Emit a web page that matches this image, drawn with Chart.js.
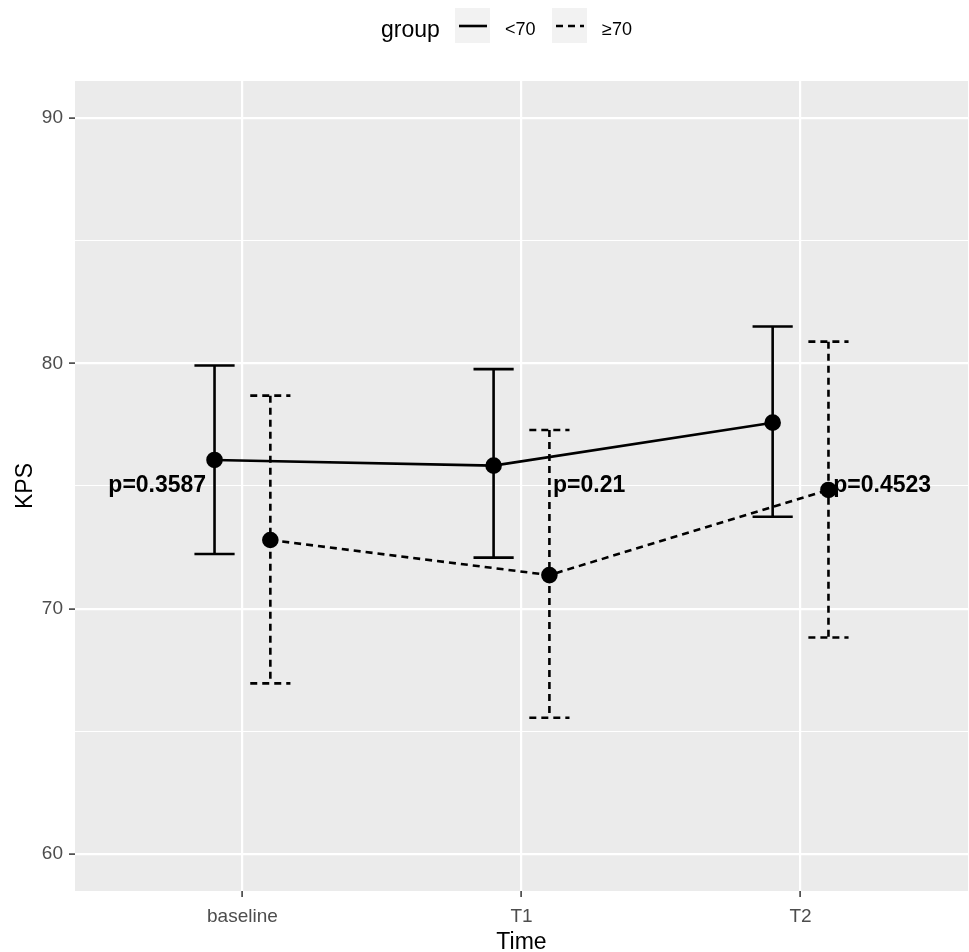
<!DOCTYPE html>
<html>
<head>
<meta charset="utf-8">
<script src="https://cdn.jsdelivr.net/npm/chart.js@4"></script>
<style>
  html, body { margin: 0; padding: 0; background: #fff; overflow: hidden; }
  #wrap { width: 969px; height: 952px; position: relative; }
  #chart { width: 969px; height: 952px; display: block; }
</style>
</head>
<body>
<div id="wrap"><canvas id="chart" width="969" height="952"></canvas></div>
<script>
// data
const categories = ["baseline", "T1", "T2"];
const meanLow = [76.06, 75.83, 77.58];   // group <70
const upperLow = [79.91, 79.76, 81.50];
const lowerLow = [72.23, 72.08, 73.75];
const meanHigh = [72.80, 71.37, 74.84];  // group >=70
const upperHigh = [78.68, 77.28, 80.88];
const lowerHigh = [66.96, 65.56, 68.83];
const pLabels = ["p=0.3587", "p=0.21", "p=0.4523"];
const pLevel = 75;
const yTicks = [60, 65, 70, 75, 80, 85, 90];
const majorTicks = [60, 70, 80, 90];

const DODGE = 0.1;
const DASH = [7, 5];
const FONT = "'Liberation Sans', Arial, sans-serif";

function points(means, shift) {
    return means.map((v, i) => ({ x: i + 1 + shift, y: v }));
}

// grey panel behind the grid
const panelBg = {
    id: "panelBg",
    beforeDraw(chart) {
        const a = chart.chartArea;
        const ctx = chart.ctx;
        ctx.save();
        ctx.fillStyle = "#EBEBEB";
        ctx.fillRect(a.left, a.top, a.right - a.left, a.bottom - a.top);
        ctx.restore();
    }
};

// error bars drawn through the scales
const errorBars = {
    id: "errorBars",
    beforeDatasetsDraw(chart) {
        const xs = chart.scales.x, ys = chart.scales.y;
        const ctx = chart.ctx;
        const groups = [
            { upper: upperLow, lower: lowerLow, shift: -DODGE, dash: [] },
            { upper: upperHigh, lower: lowerHigh, shift: DODGE, dash: DASH }
        ];
        ctx.save();
        ctx.strokeStyle = "#000";
        ctx.lineWidth = 2.6;
        groups.forEach(g => {
            ctx.setLineDash(g.dash);
            categories.forEach((c, i) => {
                const x = xs.getPixelForValue(i + 1 + g.shift);
                const x0 = xs.getPixelForValue(i + 1 + g.shift - 0.072);
                const x1 = xs.getPixelForValue(i + 1 + g.shift + 0.072);
                const yt = ys.getPixelForValue(g.upper[i]);
                const yb = ys.getPixelForValue(g.lower[i]);
                ctx.beginPath();
                ctx.moveTo(x0, yt); ctx.lineTo(x1, yt);
                ctx.moveTo(x, yt); ctx.lineTo(x, yb);
                ctx.moveTo(x0, yb); ctx.lineTo(x1, yb);
                ctx.stroke();
            });
        });
        ctx.restore();
    }
};

// p-value labels and the legend on top
const annotations = {
    id: "annotations",
    afterDatasetsDraw(chart) {
        const xs = chart.scales.x, ys = chart.scales.y;
        const ctx = chart.ctx;
        const anchors = [
            { x: 0.87, align: "right" },
            { x: 2.113, align: "left" },
            { x: 3.117, align: "left" }
        ];
        ctx.save();
        ctx.fillStyle = "#000";
        ctx.font = "bold 23px " + FONT;
        ctx.textBaseline = "middle";
        pLabels.forEach((t, i) => {
            ctx.textAlign = anchors[i].align;
            ctx.fillText(t, xs.getPixelForValue(anchors[i].x), ys.getPixelForValue(pLevel));
        });

        // legend
        ctx.textAlign = "left";
        ctx.font = "23px " + FONT;
        ctx.fillText("group", 381, 31);
        const keys = [
            { x: 455, label: "<70", dash: [] },
            { x: 552, label: "\u226570", dash: DASH }
        ];
        keys.forEach(k => {
            ctx.fillStyle = "#F2F2F2";
            ctx.fillRect(k.x, 8, 35, 35);
            ctx.strokeStyle = "#000";
            ctx.lineWidth = 2.6;
            ctx.setLineDash(k.dash);
            ctx.beginPath();
            ctx.moveTo(k.x + 4, 26);
            ctx.lineTo(k.x + 32, 26);
            ctx.stroke();
            ctx.setLineDash([]);
            ctx.fillStyle = "#000";
            ctx.font = "18px " + FONT;
            ctx.fillText(k.label, k.x + 50, 30);
        });
        ctx.restore();
    }
};

new Chart(document.getElementById("chart"), {
    type: "scatter",
    data: {
        datasets: [
            {
                label: "<70",
                data: points(meanLow, -DODGE),
                showLine: true,
                borderColor: "#000",
                borderWidth: 2.6,
                pointBackgroundColor: "#000",
                pointBorderColor: "#000",
                pointRadius: 7,
            },
            {
                label: "\u226570",
                data: points(meanHigh, DODGE),
                showLine: true,
                borderColor: "#000",
                borderWidth: 2.6,
                borderDash: DASH,
                pointBackgroundColor: "#000",
                pointBorderColor: "#000",
                pointRadius: 7,
            },
        ],
    },
    options: {
        responsive: false,
        animation: false,
        layout: { autoPadding: false, padding: { top: 81, right: 1, left: 0, bottom: 0 } },
        plugins: {
            legend: { display: false },
            tooltip: { enabled: false },
        },
        scales: {
            x: {
                type: "linear",
                min: 0.4,
                max: 3.6,
                afterBuildTicks: s => { s.ticks = categories.map((c, i) => ({ value: i + 1 })); },
                afterFit: s => { s.height = 61; s.paddingLeft = 0; s.paddingRight = 0; },
                ticks: {
                    callback: v => categories[v - 1],
                    color: "#4D4D4D",
                    font: { family: FONT, size: 19 },
                    padding: 8,
                    maxRotation: 0,
                },
                grid: { color: "#FFFFFF", lineWidth: 2.2, tickLength: 6, tickColor: "#333333", tickWidth: 1.5 },
                border: { display: false },
                title: {
                    display: true,
                    text: "Time",
                    color: "#000",
                    font: { family: FONT, size: 23, lineHeight: 1.0 },
                    padding: { top: 0, bottom: -2 },
                },
            },
            y: {
                min: 58.5,
                max: 91.5,
                afterBuildTicks: s => { s.ticks = yTicks.map(v => ({ value: v })); },
                afterFit: s => { s.width = 75; s.paddingTop = 0; s.paddingBottom = 0; },
                ticks: {
                    callback: v => majorTicks.includes(v) ? String(v) : "",
                    color: "#4D4D4D",
                    font: { family: FONT, size: 19 },
                    padding: 6,
                },
                grid: {
                    color: "#FFFFFF",
                    lineWidth: c => majorTicks.includes(c.tick && c.tick.value) ? 2.2 : 1.1,
                    tickLength: 6,
                    tickColor: c => majorTicks.includes(c.tick && c.tick.value) ? "#333333" : "rgba(0,0,0,0)",
                    tickWidth: 1.5,
                },
                border: { display: false },
                title: {
                    display: true,
                    text: "KPS",
                    color: "#000",
                    font: { family: FONT, size: 23, lineHeight: 1.0 },
                    padding: { top: 14, bottom: 0 },
                },
            },
        },
    },
    plugins: [panelBg, errorBars, annotations],
});
</script>
</body>
</html>
